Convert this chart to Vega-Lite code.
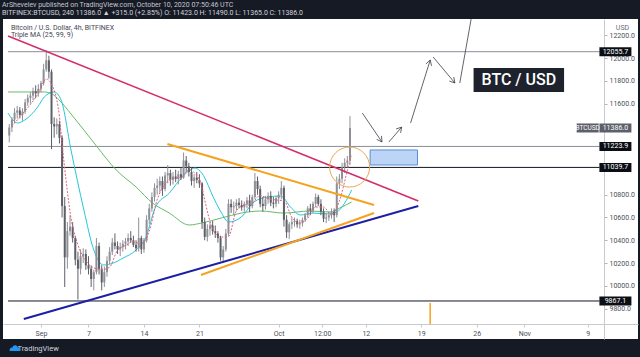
{
  "$schema": "https://vega.github.io/schema/vega-lite/v6.json",
  "width": 635,
  "height": 320,
  "autosize": {"type": "none"},
  "padding": {"left": 3, "top": 19, "right": 2, "bottom": 18},
  "background": "#161a25",
  "config": {"view": {"stroke": null, "fill": "#ffffff"}, "font": "Roboto"},
  "title": {
    "text": "ArShevelev published on TradingView.com, October 10, 2020 07:50:46 UTC",
    "subtitle": "BITFINEX:BTCUSD, 240  11386.0 ▲ +315.0 (+2.85%)  O: 11423.0  H: 11490.0  L: 11365.0  C: 11386.0",
    "anchor": "start", "frame": "group", "orient": "top", "offset": 1, "dx": -1,
    "fontSize": 7, "subtitleFontSize": 7, "fontWeight": "normal", "subtitleFontWeight": "normal",
    "color": "#c3c6ce", "subtitleColor": "#d1d4dc", "subtitlePadding": 1
  },
  "datasets": {
    "candles": [
      {"t":"2020-08-28T00:00:00Z","o":11320,"h":11420,"l":11260,"c":11390},
      {"t":"2020-08-28T08:00:00Z","o":11390,"h":11480,"l":11350,"c":11460},
      {"t":"2020-08-28T16:00:00Z","o":11460,"h":11560,"l":11430,"c":11520},
      {"t":"2020-08-29T00:00:00Z","o":11520,"h":11580,"l":11470,"c":11540},
      {"t":"2020-08-29T08:00:00Z","o":11540,"h":11570,"l":11470,"c":11500},
      {"t":"2020-08-29T16:00:00Z","o":11500,"h":11560,"l":11450,"c":11530},
      {"t":"2020-08-30T00:00:00Z","o":11530,"h":11640,"l":11510,"c":11610},
      {"t":"2020-08-30T08:00:00Z","o":11610,"h":11680,"l":11580,"c":11650},
      {"t":"2020-08-30T16:00:00Z","o":11650,"h":11700,"l":11600,"c":11670},
      {"t":"2020-08-31T00:00:00Z","o":11670,"h":11740,"l":11630,"c":11710},
      {"t":"2020-08-31T08:00:00Z","o":11710,"h":11760,"l":11650,"c":11690},
      {"t":"2020-08-31T16:00:00Z","o":11690,"h":11770,"l":11660,"c":11730},
      {"t":"2020-09-01T00:00:00Z","o":11730,"h":11800,"l":11700,"c":11780},
      {"t":"2020-09-01T08:00:00Z","o":11780,"h":11950,"l":11760,"c":11900},
      {"t":"2020-09-01T16:00:00Z","o":11900,"h":12070,"l":11880,"c":11980},
      {"t":"2020-09-02T00:00:00Z","o":11980,"h":12020,"l":11820,"c":11880},
      {"t":"2020-09-02T08:00:00Z","o":11880,"h":11900,"l":11200,"c":11420},
      {"t":"2020-09-02T16:00:00Z","o":11420,"h":11480,"l":11300,"c":11400},
      {"t":"2020-09-03T00:00:00Z","o":11400,"h":11470,"l":11330,"c":11420},
      {"t":"2020-09-03T08:00:00Z","o":11420,"h":11450,"l":11250,"c":11300},
      {"t":"2020-09-03T16:00:00Z","o":11300,"h":11320,"l":10600,"c":10700},
      {"t":"2020-09-04T00:00:00Z","o":10700,"h":10780,"l":9990,"c":10250},
      {"t":"2020-09-04T08:00:00Z","o":10250,"h":10560,"l":10150,"c":10480},
      {"t":"2020-09-04T16:00:00Z","o":10480,"h":10620,"l":10440,"c":10520},
      {"t":"2020-09-05T00:00:00Z","o":10520,"h":10560,"l":10380,"c":10420},
      {"t":"2020-09-05T08:00:00Z","o":10420,"h":10440,"l":10180,"c":10230},
      {"t":"2020-09-05T16:00:00Z","o":10230,"h":10300,"l":9880,"c":10150},
      {"t":"2020-09-06T00:00:00Z","o":10150,"h":10320,"l":10100,"c":10260},
      {"t":"2020-09-06T08:00:00Z","o":10260,"h":10330,"l":10200,"c":10280},
      {"t":"2020-09-06T16:00:00Z","o":10280,"h":10320,"l":10140,"c":10180},
      {"t":"2020-09-07T00:00:00Z","o":10180,"h":10260,"l":10100,"c":10150},
      {"t":"2020-09-07T08:00:00Z","o":10150,"h":10180,"l":9990,"c":10060},
      {"t":"2020-09-07T16:00:00Z","o":10060,"h":10140,"l":9960,"c":10120},
      {"t":"2020-09-08T00:00:00Z","o":10120,"h":10420,"l":10100,"c":10350},
      {"t":"2020-09-08T08:00:00Z","o":10350,"h":10380,"l":10100,"c":10150},
      {"t":"2020-09-08T16:00:00Z","o":10150,"h":10180,"l":9960,"c":10030},
      {"t":"2020-09-09T00:00:00Z","o":10030,"h":10170,"l":9990,"c":10120},
      {"t":"2020-09-09T08:00:00Z","o":10120,"h":10260,"l":10080,"c":10220},
      {"t":"2020-09-09T16:00:00Z","o":10220,"h":10340,"l":10190,"c":10300},
      {"t":"2020-09-10T00:00:00Z","o":10300,"h":10420,"l":10270,"c":10380},
      {"t":"2020-09-10T08:00:00Z","o":10380,"h":10460,"l":10320,"c":10350},
      {"t":"2020-09-10T16:00:00Z","o":10350,"h":10390,"l":10280,"c":10320},
      {"t":"2020-09-11T00:00:00Z","o":10320,"h":10380,"l":10260,"c":10340},
      {"t":"2020-09-11T08:00:00Z","o":10340,"h":10400,"l":10300,"c":10370},
      {"t":"2020-09-11T16:00:00Z","o":10370,"h":10420,"l":10320,"c":10390},
      {"t":"2020-09-12T00:00:00Z","o":10390,"h":10460,"l":10350,"c":10420},
      {"t":"2020-09-12T08:00:00Z","o":10420,"h":10480,"l":10380,"c":10400},
      {"t":"2020-09-12T16:00:00Z","o":10400,"h":10440,"l":10340,"c":10360},
      {"t":"2020-09-13T00:00:00Z","o":10360,"h":10400,"l":10300,"c":10330},
      {"t":"2020-09-13T08:00:00Z","o":10330,"h":10600,"l":10300,"c":10420},
      {"t":"2020-09-13T16:00:00Z","o":10420,"h":10440,"l":10280,"c":10320},
      {"t":"2020-09-14T00:00:00Z","o":10320,"h":10420,"l":10290,"c":10400},
      {"t":"2020-09-14T08:00:00Z","o":10400,"h":10620,"l":10380,"c":10580},
      {"t":"2020-09-14T16:00:00Z","o":10580,"h":10720,"l":10540,"c":10680},
      {"t":"2020-09-15T00:00:00Z","o":10680,"h":10820,"l":10650,"c":10780},
      {"t":"2020-09-15T08:00:00Z","o":10780,"h":10900,"l":10740,"c":10860},
      {"t":"2020-09-15T16:00:00Z","o":10860,"h":10940,"l":10800,"c":10880},
      {"t":"2020-09-16T00:00:00Z","o":10880,"h":10960,"l":10820,"c":10920},
      {"t":"2020-09-16T08:00:00Z","o":10920,"h":10960,"l":10790,"c":10850},
      {"t":"2020-09-16T16:00:00Z","o":10850,"h":11000,"l":10830,"c":10970},
      {"t":"2020-09-17T00:00:00Z","o":10970,"h":11060,"l":10900,"c":10990},
      {"t":"2020-09-17T08:00:00Z","o":10990,"h":11020,"l":10880,"c":10930},
      {"t":"2020-09-17T16:00:00Z","o":10930,"h":11000,"l":10890,"c":10960},
      {"t":"2020-09-18T00:00:00Z","o":10960,"h":11020,"l":10910,"c":10940},
      {"t":"2020-09-18T08:00:00Z","o":10940,"h":11010,"l":10890,"c":10980},
      {"t":"2020-09-18T16:00:00Z","o":10980,"h":11040,"l":10930,"c":10950},
      {"t":"2020-09-19T00:00:00Z","o":10950,"h":11170,"l":10940,"c":11100},
      {"t":"2020-09-19T08:00:00Z","o":11100,"h":11140,"l":11000,"c":11050},
      {"t":"2020-09-19T16:00:00Z","o":11050,"h":11080,"l":10960,"c":11000},
      {"t":"2020-09-20T00:00:00Z","o":11000,"h":11040,"l":10880,"c":10920},
      {"t":"2020-09-20T08:00:00Z","o":10920,"h":10980,"l":10860,"c":10950},
      {"t":"2020-09-20T16:00:00Z","o":10950,"h":11000,"l":10900,"c":10930},
      {"t":"2020-09-21T00:00:00Z","o":10930,"h":10980,"l":10860,"c":10900},
      {"t":"2020-09-21T08:00:00Z","o":10900,"h":10910,"l":10500,"c":10560},
      {"t":"2020-09-21T16:00:00Z","o":10560,"h":10600,"l":10400,"c":10430},
      {"t":"2020-09-22T00:00:00Z","o":10430,"h":10540,"l":10390,"c":10500},
      {"t":"2020-09-22T08:00:00Z","o":10500,"h":10560,"l":10440,"c":10530},
      {"t":"2020-09-22T16:00:00Z","o":10530,"h":10570,"l":10450,"c":10480},
      {"t":"2020-09-23T00:00:00Z","o":10480,"h":10530,"l":10420,"c":10460},
      {"t":"2020-09-23T08:00:00Z","o":10460,"h":10480,"l":10380,"c":10420},
      {"t":"2020-09-23T16:00:00Z","o":10420,"h":10440,"l":10220,"c":10250},
      {"t":"2020-09-24T00:00:00Z","o":10250,"h":10350,"l":10200,"c":10320},
      {"t":"2020-09-24T08:00:00Z","o":10320,"h":10500,"l":10300,"c":10460},
      {"t":"2020-09-24T16:00:00Z","o":10460,"h":10760,"l":10440,"c":10720},
      {"t":"2020-09-25T00:00:00Z","o":10720,"h":10760,"l":10640,"c":10690},
      {"t":"2020-09-25T08:00:00Z","o":10690,"h":10740,"l":10620,"c":10700},
      {"t":"2020-09-25T16:00:00Z","o":10700,"h":10760,"l":10660,"c":10730},
      {"t":"2020-09-26T00:00:00Z","o":10730,"h":10770,"l":10680,"c":10710},
      {"t":"2020-09-26T08:00:00Z","o":10710,"h":10750,"l":10660,"c":10690},
      {"t":"2020-09-26T16:00:00Z","o":10690,"h":10740,"l":10650,"c":10720},
      {"t":"2020-09-27T00:00:00Z","o":10720,"h":10780,"l":10680,"c":10750},
      {"t":"2020-09-27T08:00:00Z","o":10750,"h":10800,"l":10650,"c":10700},
      {"t":"2020-09-27T16:00:00Z","o":10700,"h":10800,"l":10680,"c":10780},
      {"t":"2020-09-28T00:00:00Z","o":10780,"h":10990,"l":10760,"c":10920},
      {"t":"2020-09-28T08:00:00Z","o":10920,"h":10960,"l":10800,"c":10850},
      {"t":"2020-09-28T16:00:00Z","o":10850,"h":10880,"l":10690,"c":10720},
      {"t":"2020-09-29T00:00:00Z","o":10720,"h":10780,"l":10650,"c":10700},
      {"t":"2020-09-29T08:00:00Z","o":10700,"h":10790,"l":10670,"c":10760},
      {"t":"2020-09-29T16:00:00Z","o":10760,"h":10820,"l":10720,"c":10790},
      {"t":"2020-09-30T00:00:00Z","o":10790,"h":10830,"l":10700,"c":10730},
      {"t":"2020-09-30T08:00:00Z","o":10730,"h":10780,"l":10680,"c":10720},
      {"t":"2020-09-30T16:00:00Z","o":10720,"h":10790,"l":10690,"c":10770},
      {"t":"2020-10-01T00:00:00Z","o":10770,"h":10830,"l":10720,"c":10800},
      {"t":"2020-10-01T08:00:00Z","o":10800,"h":10920,"l":10760,"c":10860},
      {"t":"2020-10-01T16:00:00Z","o":10860,"h":10880,"l":10520,"c":10580},
      {"t":"2020-10-02T00:00:00Z","o":10580,"h":10620,"l":10420,"c":10470},
      {"t":"2020-10-02T08:00:00Z","o":10470,"h":10560,"l":10410,"c":10540},
      {"t":"2020-10-02T16:00:00Z","o":10540,"h":10600,"l":10500,"c":10560},
      {"t":"2020-10-03T00:00:00Z","o":10560,"h":10600,"l":10520,"c":10570},
      {"t":"2020-10-03T08:00:00Z","o":10570,"h":10590,"l":10510,"c":10540},
      {"t":"2020-10-03T16:00:00Z","o":10540,"h":10580,"l":10500,"c":10550},
      {"t":"2020-10-04T00:00:00Z","o":10550,"h":10600,"l":10520,"c":10580},
      {"t":"2020-10-04T08:00:00Z","o":10580,"h":10640,"l":10560,"c":10620},
      {"t":"2020-10-04T16:00:00Z","o":10620,"h":10700,"l":10600,"c":10680},
      {"t":"2020-10-05T00:00:00Z","o":10680,"h":10720,"l":10620,"c":10660},
      {"t":"2020-10-05T08:00:00Z","o":10660,"h":10740,"l":10640,"c":10720},
      {"t":"2020-10-05T16:00:00Z","o":10720,"h":10810,"l":10690,"c":10780},
      {"t":"2020-10-06T00:00:00Z","o":10780,"h":10800,"l":10700,"c":10720},
      {"t":"2020-10-06T08:00:00Z","o":10720,"h":10760,"l":10620,"c":10650},
      {"t":"2020-10-06T16:00:00Z","o":10650,"h":10680,"l":10560,"c":10590},
      {"t":"2020-10-07T00:00:00Z","o":10590,"h":10640,"l":10550,"c":10600},
      {"t":"2020-10-07T08:00:00Z","o":10600,"h":10650,"l":10570,"c":10620},
      {"t":"2020-10-07T16:00:00Z","o":10620,"h":10680,"l":10590,"c":10650},
      {"t":"2020-10-08T00:00:00Z","o":10650,"h":10680,"l":10560,"c":10620},
      {"t":"2020-10-08T08:00:00Z","o":10620,"h":10960,"l":10600,"c":10900},
      {"t":"2020-10-08T16:00:00Z","o":10900,"h":10980,"l":10850,"c":10940},
      {"t":"2020-10-09T00:00:00Z","o":10940,"h":11080,"l":10900,"c":11040},
      {"t":"2020-10-09T08:00:00Z","o":11040,"h":11120,"l":10990,"c":11080},
      {"t":"2020-10-09T16:00:00Z","o":11080,"h":11140,"l":11040,"c":11100},
      {"t":"2020-10-10T00:00:00Z","o":11100,"h":11490,"l":11060,"c":11386}
    ],
    "ma99": [
      {"t":"2020-08-27T20:00:00Z","v":11702},{"t":"2020-09-01T10:00:00Z","v":11702},
      {"t":"2020-09-02T10:00:00Z","v":11684},{"t":"2020-09-03T07:00:00Z","v":11632},
      {"t":"2020-09-04T19:00:00Z","v":11509},{"t":"2020-09-06T10:00:00Z","v":11368},
      {"t":"2020-09-08T00:00:00Z","v":11228},{"t":"2020-09-10T12:00:00Z","v":11017},
      {"t":"2020-09-13T00:00:00Z","v":10868},{"t":"2020-09-15T02:00:00Z","v":10727},
      {"t":"2020-09-17T05:00:00Z","v":10639},{"t":"2020-09-19T17:00:00Z","v":10534},
      {"t":"2020-09-21T07:00:00Z","v":10552},{"t":"2020-09-23T19:00:00Z","v":10596},
      {"t":"2020-09-26T07:00:00Z","v":10639},{"t":"2020-09-28T18:00:00Z","v":10657},
      {"t":"2020-10-01T15:00:00Z","v":10639},{"t":"2020-10-04T23:00:00Z","v":10657},
      {"t":"2020-10-07T11:00:00Z","v":10648},{"t":"2020-10-08T17:00:00Z","v":10683},
      {"t":"2020-10-10T05:00:00Z","v":10736}
    ],
    "ma25": [
      {"t":"2020-08-27T20:00:00Z","v":11517},{"t":"2020-08-29T02:00:00Z","v":11430},
      {"t":"2020-08-29T23:00:00Z","v":11456},{"t":"2020-08-31T14:00:00Z","v":11570},
      {"t":"2020-09-01T10:00:00Z","v":11658},{"t":"2020-09-02T16:00:00Z","v":11702},
      {"t":"2020-09-03T13:00:00Z","v":11632},{"t":"2020-09-04T19:00:00Z","v":11193},
      {"t":"2020-09-06T10:00:00Z","v":10666},{"t":"2020-09-07T16:00:00Z","v":10315},
      {"t":"2020-09-08T21:00:00Z","v":10183},{"t":"2020-09-10T03:00:00Z","v":10200},
      {"t":"2020-09-11T09:00:00Z","v":10244},{"t":"2020-09-13T00:00:00Z","v":10315},
      {"t":"2020-09-14T06:00:00Z","v":10429},{"t":"2020-09-15T11:00:00Z","v":10692},
      {"t":"2020-09-17T05:00:00Z","v":10815},{"t":"2020-09-18T20:00:00Z","v":10955},
      {"t":"2020-09-20T11:00:00Z","v":11034},{"t":"2020-09-21T07:00:00Z","v":10990},
      {"t":"2020-09-22T22:00:00Z","v":10754},{"t":"2020-09-23T19:00:00Z","v":10639},
      {"t":"2020-09-24T16:00:00Z","v":10560},{"t":"2020-09-26T07:00:00Z","v":10604},
      {"t":"2020-09-27T21:00:00Z","v":10736},{"t":"2020-09-29T15:00:00Z","v":10780},
      {"t":"2020-10-01T06:00:00Z","v":10789},{"t":"2020-10-02T12:00:00Z","v":10692},
      {"t":"2020-10-03T18:00:00Z","v":10622},{"t":"2020-10-05T08:00:00Z","v":10639},
      {"t":"2020-10-07T02:00:00Z","v":10631},{"t":"2020-10-08T08:00:00Z","v":10648},
      {"t":"2020-10-09T08:00:00Z","v":10727},{"t":"2020-10-10T05:00:00Z","v":10841}
    ],
    "ma9": [
      {"t":"2020-08-28T08:00:00Z","v":11400},{"t":"2020-08-29T16:00:00Z","v":11510},
      {"t":"2020-08-30T16:00:00Z","v":11592},{"t":"2020-08-31T16:00:00Z","v":11690},
      {"t":"2020-09-01T16:00:00Z","v":11816},{"t":"2020-09-02T16:00:00Z","v":11716},
      {"t":"2020-09-03T08:00:00Z","v":11484},{"t":"2020-09-03T16:00:00Z","v":11248},
      {"t":"2020-09-04T08:00:00Z","v":10830},{"t":"2020-09-04T16:00:00Z","v":10650},
      {"t":"2020-09-05T16:00:00Z","v":10360},{"t":"2020-09-06T16:00:00Z","v":10220},
      {"t":"2020-09-07T16:00:00Z","v":10158},{"t":"2020-09-08T16:00:00Z","v":10142},
      {"t":"2020-09-09T16:00:00Z","v":10164},{"t":"2020-09-10T16:00:00Z","v":10314},
      {"t":"2020-09-11T16:00:00Z","v":10354},{"t":"2020-09-12T16:00:00Z","v":10388},
      {"t":"2020-09-13T16:00:00Z","v":10366},{"t":"2020-09-14T16:00:00Z","v":10480},
      {"t":"2020-09-15T16:00:00Z","v":10756},{"t":"2020-09-16T16:00:00Z","v":10896},
      {"t":"2020-09-17T16:00:00Z","v":10940},{"t":"2020-09-18T16:00:00Z","v":10952},
      {"t":"2020-09-19T16:00:00Z","v":11016},{"t":"2020-09-20T16:00:00Z","v":10970},
      {"t":"2020-09-21T08:00:00Z","v":10860},{"t":"2020-09-21T16:00:00Z","v":10754},
      {"t":"2020-09-22T16:00:00Z","v":10500},{"t":"2020-09-23T16:00:00Z","v":10428},
      {"t":"2020-09-24T16:00:00Z","v":10434},{"t":"2020-09-25T16:00:00Z","v":10660},
      {"t":"2020-09-26T16:00:00Z","v":10710},{"t":"2020-09-27T16:00:00Z","v":10728},
      {"t":"2020-09-28T16:00:00Z","v":10794},{"t":"2020-09-29T16:00:00Z","v":10764},
      {"t":"2020-09-30T16:00:00Z","v":10754},{"t":"2020-10-01T16:00:00Z","v":10746},
      {"t":"2020-10-02T16:00:00Z","v":10602},{"t":"2020-10-03T16:00:00Z","v":10552},
      {"t":"2020-10-04T16:00:00Z","v":10594},{"t":"2020-10-05T16:00:00Z","v":10692},
      {"t":"2020-10-06T16:00:00Z","v":10692},{"t":"2020-10-07T16:00:00Z","v":10622},
      {"t":"2020-10-08T16:00:00Z","v":10746},{"t":"2020-10-09T16:00:00Z","v":11012},
      {"t":"2020-10-10T04:00:00Z","v":11150}
    ],
    "trend": [
      {"line":"magenta","t":"2020-08-27T20:10:00Z","v":12193},
      {"line":"magenta","t":"2020-10-18T15:00:00Z","v":10745},
      {"line":"blue","t":"2020-08-29T20:00:00Z","v":9709},
      {"line":"blue","t":"2020-10-18T15:00:00Z","v":10701},
      {"line":"orange1","t":"2020-09-16T23:00:00Z","v":11245},
      {"line":"orange1","t":"2020-10-13T01:00:00Z","v":10710},
      {"line":"orange2","t":"2020-09-21T04:30:00Z","v":10095},
      {"line":"orange2","t":"2020-10-13T01:00:00Z","v":10639}
    ],
    "arrows": [
      {"seg":"a1","i":0,"t":"2020-10-11T13:26:00Z","v":11517},
      {"seg":"a1","i":1,"t":"2020-10-14T01:00:00Z","v":11263},
      {"seg":"a1h","i":0,"t":"2020-10-13T23:31:00Z","v":11316},
      {"seg":"a1h","i":1,"t":"2020-10-14T01:00:00Z","v":11263},
      {"seg":"a1h","i":2,"t":"2020-10-13T08:53:00Z","v":11286},
      {"seg":"a2","i":0,"t":"2020-10-14T21:50:00Z","v":11263},
      {"seg":"a2","i":1,"t":"2020-10-16T12:40:00Z","v":11394},
      {"seg":"a2h","i":0,"t":"2020-10-15T19:40:00Z","v":11377},
      {"seg":"a2h","i":1,"t":"2020-10-16T12:40:00Z","v":11394},
      {"seg":"a2h","i":2,"t":"2020-10-16T09:20:00Z","v":11343},
      {"seg":"a3","i":0,"t":"2020-10-17T15:36:00Z","v":11430},
      {"seg":"a3","i":1,"t":"2020-10-20T03:07:00Z","v":11983},
      {"seg":"a3h","i":0,"t":"2020-10-19T14:00:00Z","v":11948},
      {"seg":"a3h","i":1,"t":"2020-10-20T03:07:00Z","v":11983},
      {"seg":"a3h","i":2,"t":"2020-10-20T07:00:00Z","v":11931},
      {"seg":"a4","i":0,"t":"2020-10-20T12:00:00Z","v":12009},
      {"seg":"a4","i":1,"t":"2020-10-23T05:45:00Z","v":11781},
      {"seg":"a4h","i":0,"t":"2020-10-23T02:24:00Z","v":11833},
      {"seg":"a4h","i":1,"t":"2020-10-23T05:45:00Z","v":11781},
      {"seg":"a4h","i":2,"t":"2020-10-22T13:00:00Z","v":11798},
      {"seg":"l5","i":0,"t":"2020-10-23T20:38:00Z","v":11781},
      {"seg":"l5","i":1,"t":"2020-10-25T07:00:00Z","v":12342}
    ],
    "badges": [
      {"t":"2020-11-12T12:00:00Z","v":12055.7,"label":"12055.7","kind":"level"},
      {"t":"2020-11-12T12:00:00Z","v":11386.0,"label":"11386.0","kind":"last"},
      {"t":"2020-11-12T12:00:00Z","v":11223.9,"label":"11223.9","kind":"level"},
      {"t":"2020-11-12T12:00:00Z","v":11039.7,"label":"11039.7","kind":"level"},
      {"t":"2020-11-12T12:00:00Z","v":9867.1,"label":"9867.1","kind":"level"}
    ]
  },
  "encoding": {
    "x": {
      "field": "t", "type": "temporal",
      "scale": {"type": "utc", "domain": [
        {"year": 2020, "month": 8, "date": 27, "hours": 20, "minutes": 10, "utc": true},
        {"year": 2020, "month": 11, "date": 14, "hours": 17, "minutes": 17, "utc": true}]},
      "axis": {
        "orient": "bottom", "offset": -15, "grid": false,
        "domainColor": "#c8cad0", "domainWidth": 1,
        "ticks": true, "tickSize": 3, "tickColor": "#c8cad0",
        "labelPadding": 2, "labelFontSize": 7, "labelColor": "#4c4f59", "labelFlush": false, "labelOverlap": false,
        "values": [
          {"year": 2020, "month": 9, "date": 1, "utc": true},
          {"year": 2020, "month": 9, "date": 7, "utc": true},
          {"year": 2020, "month": 9, "date": 14, "utc": true},
          {"year": 2020, "month": 9, "date": 21, "utc": true},
          {"year": 2020, "month": 10, "date": 1, "utc": true},
          {"year": 2020, "month": 10, "date": 6, "hours": 12, "utc": true},
          {"year": 2020, "month": 10, "date": 12, "utc": true},
          {"year": 2020, "month": 10, "date": 19, "utc": true},
          {"year": 2020, "month": 10, "date": 26, "utc": true},
          {"year": 2020, "month": 11, "date": 1, "utc": true},
          {"year": 2020, "month": 11, "date": 9, "utc": true}],
        "labelExpr": "utcdate(datum.value) == 1 ? utcFormat(datum.value, '%b') : (utchours(datum.value) == 12 ? '12:00' : utcFormat(datum.value, '%-d'))",
        "title": "TradingView", "titleX": 14, "titleY": 24, "titleAlign": "left", "titleBaseline": "middle",
        "titleAngle": 0, "titleColor": "#d1d4dc", "titleFontSize": 7.5, "titleFontWeight": "normal"
      }
    },
    "y": {
      "field": "v", "type": "quantitative",
      "scale": {"domain": [9533.2, 12342.8], "zero": false, "nice": false},
      "axis": {
        "orient": "right", "offset": -34, "grid": false,
        "domainColor": "#c8cad0", "domainWidth": 1,
        "ticks": true, "tickSize": 3, "tickColor": "#b0b3ba",
        "labelPadding": 2, "labelFontSize": 7, "labelColor": "#4c4f59", "format": ".1f",
        "labelOverlap": false, "labelFlush": false,
        "values": [9800, 10000, 10200, 10400, 10600, 10800, 11600, 11800, 12000, 12200],
        "title": "USD", "titleX": 18, "titleY": 8, "titleAngle": 0, "titleAlign": "center", "titleBaseline": "middle",
        "titleColor": "#6a6d78", "titleFontSize": 7, "titleFontWeight": "normal"
      }
    }
  },
  "layer": [
    {
      "data": {"values": [
        {"t": "2020-08-27T20:10:00Z", "t2": "2020-11-10T12:00:00Z", "v": 12055.7},
        {"t": "2020-08-27T20:10:00Z", "t2": "2020-11-10T12:00:00Z", "v": 11223.9}]},
      "mark": {"type": "rule", "color": "#8a8d96", "strokeWidth": 1},
      "encoding": {"x2": {"field": "t2"}}
    },
    {
      "data": {"values": [
        {"t": "2020-08-27T20:10:00Z", "t2": "2020-11-10T12:00:00Z", "v": 11039.7},
        {"t": "2020-08-27T20:10:00Z", "t2": "2020-11-10T12:00:00Z", "v": 9867.1}]},
      "mark": {"type": "rule", "color": "#131722", "strokeWidth": 1},
      "encoding": {"x2": {"field": "t2"}}
    },
    {
      "data": {"values": [{"t": "2020-10-12T13:00:00Z", "t2": "2020-10-18T12:30:00Z", "v": 11193, "v2": 11061}]},
      "mark": {"type": "rect", "fill": "#bcd4f5", "stroke": "#5b8fd6", "strokeWidth": 1},
      "encoding": {"x2": {"field": "t2"}, "y2": {"field": "v2"}}
    },
    {
      "data": {"name": "ma99"},
      "mark": {"type": "line", "color": "#66bb6a", "strokeWidth": 1, "interpolate": "monotone"},
      "encoding": {}
    },
    {
      "data": {"name": "ma25"},
      "mark": {"type": "line", "color": "#26c6da", "strokeWidth": 1, "interpolate": "monotone"},
      "encoding": {}
    },
    {
      "data": {"name": "candles"},
      "mark": {"type": "rule", "strokeWidth": 1},
      "encoding": {
        "y": {"field": "l", "type": "quantitative"},
        "y2": {"field": "h"},
        "color": {"condition": {"test": "datum.c >= datum.o", "value": "#8e9096"}, "value": "#5e6068"}
      }
    },
    {
      "data": {"name": "candles"},
      "mark": {"type": "bar", "width": 2},
      "encoding": {
        "y": {"field": "o", "type": "quantitative"},
        "y2": {"field": "c"},
        "color": {"condition": {"test": "datum.c >= datum.o", "value": "#8e9096"}, "value": "#5e6068"}
      }
    },
    {
      "data": {"name": "ma9"},
      "mark": {"type": "line", "color": "#e0607e", "strokeWidth": 1, "strokeDash": [2, 1.5], "interpolate": "monotone"},
      "encoding": {}
    },
    {
      "data": {"name": "trend"},
      "transform": [{"filter": "datum.line == 'magenta'"}],
      "mark": {"type": "line", "color": "#d42d6b", "strokeWidth": 1.6},
      "encoding": {}
    },
    {
      "data": {"name": "trend"},
      "transform": [{"filter": "datum.line == 'blue'"}],
      "mark": {"type": "line", "color": "#1c1ea3", "strokeWidth": 2},
      "encoding": {}
    },
    {
      "data": {"name": "trend"},
      "transform": [{"filter": "datum.line == 'orange1' || datum.line == 'orange2'"}],
      "mark": {"type": "line", "color": "#f5a21e", "strokeWidth": 2},
      "encoding": {"detail": {"field": "line"}}
    },
    {
      "data": {"values": [{"t": "2020-10-09T23:00:00Z", "v": 11043}]},
      "mark": {"type": "point", "shape": "circle", "size": 1600, "filled": false, "stroke": "#e8aa55", "strokeWidth": 1, "opacity": 1},
      "encoding": {}
    },
    {
      "data": {"name": "arrows"},
      "mark": {"type": "line", "color": "#3a3d46", "strokeWidth": 0.8},
      "encoding": {"detail": {"field": "seg"}, "order": {"field": "i"}}
    },
    {
      "data": {"values": [{"t": "2020-10-25T14:24:00Z", "t2": "2020-11-06T00:30:00Z", "v": 11912.6, "v2": 11701.9}]},
      "mark": {"type": "rect", "fill": "#1e222d"},
      "encoding": {"x2": {"field": "t2"}, "y2": {"field": "v2"}}
    },
    {
      "data": {"values": [{"t": "2020-10-31T07:26:00Z", "v": 11807, "label": "BTC / USD"}]},
      "mark": {"type": "text", "color": "#ffffff", "fontSize": 16, "fontWeight": 500, "align": "center", "baseline": "middle"},
      "encoding": {"text": {"field": "label"}}
    },
    {
      "data": {"values": [
        {"t": "2020-08-28T05:00:00Z", "v": 12264, "label": "Bitcoin / U.S. Dollar, 4h, BITFINEX"},
        {"t": "2020-08-28T05:00:00Z", "v": 12198, "label": "Triple MA (25, 99, 9)"}]},
      "mark": {"type": "text", "color": "#434651", "fontSize": 7, "align": "left", "baseline": "middle"},
      "encoding": {"text": {"field": "label"}}
    },
    {
      "data": {"values": [{"t": "2020-10-20T03:00:00Z", "v": 9849, "v2": 9665}]},
      "mark": {"type": "rule", "color": "#f5a21e", "strokeWidth": 1.5},
      "encoding": {"y2": {"field": "v2"}}
    },
    {
      "data": {"name": "badges"},
      "mark": {"type": "point", "shape": "M-1,-0.28H1V0.28H-1Z", "size": 1024, "filled": true, "opacity": 1},
      "encoding": {
        "color": {"condition": {"test": "datum.kind == 'last'", "value": "#5d606b"}, "value": "#0c0e15"}
      }
    },
    {
      "data": {"name": "badges"},
      "mark": {"type": "text", "color": "#ffffff", "fontSize": 7, "align": "center", "baseline": "middle"},
      "encoding": {"text": {"field": "label"}}
    },
    {
      "data": {"values": [{"t": "2020-11-09T00:00:00Z", "v": 11386.0, "label": "BTCUSD"}]},
      "mark": {"type": "point", "shape": "M-1,-0.41H1V0.41H-1Z", "size": 484, "filled": true, "opacity": 1, "color": "#5d606b"},
      "encoding": {}
    },
    {
      "data": {"values": [{"t": "2020-11-09T00:00:00Z", "v": 11386.0, "label": "BTCUSD"}]},
      "mark": {"type": "text", "color": "#ffffff", "fontSize": 6.5, "align": "center", "baseline": "middle"},
      "encoding": {"text": {"field": "label"}}
    },
    {
      "data": {"values": [{"t": "2020-08-28T17:00:00Z", "v": 9454, "label": "logo"}]},
      "mark": {"type": "point", "shape": "M-1,0.55 C-1.1,0.05 -0.7,-0.2 -0.45,-0.1 C-0.35,-0.6 0.35,-0.7 0.5,-0.15 C0.9,-0.2 1.15,0.2 1,0.55 Z", "size": 110, "filled": true, "opacity": 1, "color": "#2196f3", "clip": false},
      "encoding": {}
    }
  ]
}
